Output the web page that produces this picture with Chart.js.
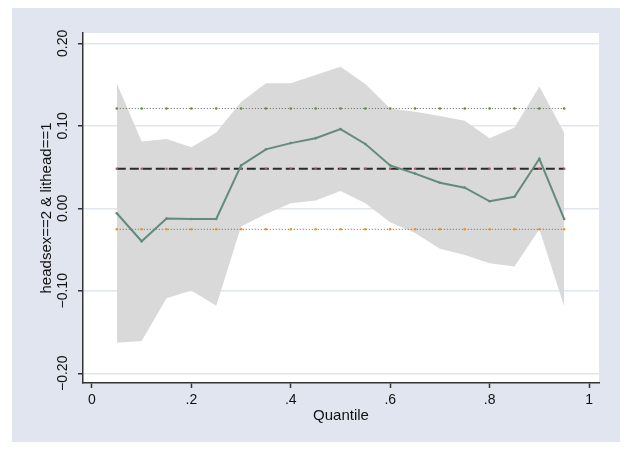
<!DOCTYPE html>
<html>
<head>
<meta charset="utf-8">
<script src="https://cdn.jsdelivr.net/npm/chart.js@4"></script>
<style>
  html, body { margin: 0; padding: 0; background: #ffffff; }
  #wrap { position: absolute; left: 12px; top: 8px; width: 608px; height: 434px; background: #e1e5ef; }
  canvas { display: block; }
</style>
</head>
<body>
<div id="wrap"><canvas id="myChart" width="608" height="434"></canvas></div>
<script>
// quantile regression estimates
const quantiles = [0.05, 0.10, 0.15, 0.20, 0.25, 0.30, 0.35, 0.40, 0.45, 0.50,
                   0.55, 0.60, 0.65, 0.70, 0.75, 0.80, 0.85, 0.90, 0.95]
const coef = [-0.006, -0.040, -0.0125, -0.013, -0.013, 0.052, 0.0715, 0.079, 0.085, 0.096,
              0.078, 0.052, 0.042, 0.031, 0.025, 0.0085, 0.014, 0.060, -0.013]
const ciUpper = [0.1515, 0.081, 0.084, 0.074, 0.092, 0.129, 0.1515, 0.1515, 0.1616, 0.1717,
                 0.1507, 0.121, 0.117, 0.112, 0.106, 0.085, 0.098, 0.1475, 0.0917]
const ciLower = [-0.163, -0.161, -0.109, -0.0998, -0.118, -0.022, -0.007, 0.006, 0.0093, 0.021,
                 0.006, -0.017, -0.030, -0.049, -0.0566, -0.0667, -0.0707, -0.0255, -0.119]
// OLS estimate and its confidence bounds
const olsCoef = 0.048
const olsUpper = 0.121
const olsLower = -0.0255

const yTicks = [-0.2, -0.1, 0, 0.1, 0.2]
const xTicks = [0, 0.2, 0.4, 0.6, 0.8, 1]
const yTitle = 'headsex==2 & lithead==1'
const xTitle = 'Quantile'

const pts = (ys) => quantiles.map((q, i) => ({ x: q, y: ys[i] }))
const flat = (v) => quantiles.map(q => ({ x: q, y: v }))

const ctx = document.getElementById('myChart');
const font = { family: '"Liberation Sans", Arial, sans-serif', size: 14 }

// white plot region
const plotBg = {
    id: 'plotBg',
    beforeDraw(chart) {
        const a = chart.chartArea
        const c = chart.ctx
        c.save()
        c.fillStyle = '#ffffff'
        c.fillRect(a.left, a.top, a.right - a.left, a.bottom - a.top)
        c.restore()
    }
}

new Chart(ctx, {
    type: 'scatter',
    data: {
        datasets: [
            {
                data: pts(ciUpper),
                showLine: true,
                fill: '+1',
                backgroundColor: '#d9d9d9',
                borderWidth: 0,
                pointRadius: 0,
                order: 5
            },
            {
                data: pts(ciLower),
                showLine: true,
                borderWidth: 0,
                pointRadius: 0,
                order: 6
            },
            {
                data: flat(olsUpper),
                showLine: true,
                borderColor: '#666666',
                borderWidth: 1,
                borderDash: [1, 2],
                pointRadius: 1.3,
                pointBackgroundColor: '#5f8d3c',
                pointBorderWidth: 0,
                order: 3
            },
            {
                data: flat(olsLower),
                showLine: true,
                borderColor: '#666666',
                borderWidth: 1,
                borderDash: [1, 2],
                pointRadius: 1.3,
                pointBackgroundColor: '#e8942e',
                pointBorderWidth: 0,
                order: 3
            },
            {
                data: flat(olsCoef),
                showLine: true,
                borderColor: '#2a2a2a',
                borderWidth: 2,
                borderDash: [9, 4],
                pointRadius: 1.3,
                pointBackgroundColor: '#b25a5a',
                pointBorderWidth: 0,
                order: 2
            },
            {
                data: pts(coef),
                showLine: true,
                borderColor: '#628b7c',
                borderWidth: 2,
                pointRadius: 1.3,
                pointBackgroundColor: '#628b7c',
                pointBorderWidth: 0,
                order: 1
            }
        ]
    },
    options: {
        responsive: false,
        animation: false,
        layout: { padding: { top: 25, right: 21, left: 0, bottom: 0 } },
        plugins: {
            legend: { display: false },
            tooltip: { enabled: false }
        },
        scales: {
            x: {
                type: 'linear',
                min: -0.018,
                max: 1.02,
                afterFit: (s) => { s.height = 59 },
                afterBuildTicks: (s) => { s.ticks = xTicks.map(v => ({ value: v })) },
                border: { display: true, color: '#333333', width: 1.5 },
                grid: { drawOnChartArea: false, tickColor: '#333333', tickLength: 5, tickWidth: 1.5 },
                ticks: {
                    color: '#111111',
                    font: font,
                    padding: 4,
                    maxRotation: 0,
                    callback: (v) => {
                        const r = Math.round(v * 10) / 10
                        if (r === 0) return '0'
                        if (r === 1) return '1'
                        return String(r).replace('0.', '.')
                    }
                },
                title: { display: true, text: xTitle, color: '#111111', font: { family: font.family, size: 15 }, padding: { top: 0, bottom: 17 } }
            },
            y: {
                type: 'linear',
                min: -0.2118,
                max: 0.2125,
                afterFit: (s) => { s.width = 71 },
                afterBuildTicks: (s) => { s.ticks = yTicks.map(v => ({ value: v })) },
                border: { display: true, color: '#333333', width: 1.5 },
                grid: { color: '#dfe6f0', lineWidth: 1.5, tickColor: '#333333', tickLength: 5, tickWidth: 1.5 },
                ticks: {
                    color: '#111111',
                    font: font,
                    minRotation: 90,
                    maxRotation: 90,
                    crossAlign: 'center',
                    padding: -3,
                    callback: (v) => {
                        const r = Math.round(v * 100) / 100
                        const s = Math.abs(r).toFixed(2)
                        return r < 0 ? '\u2212' + s : s
                    }
                },
                title: { display: true, text: yTitle, color: '#111111', font: { family: font.family, size: 15 }, padding: { top: 26, bottom: 0 } }
            }
        }
    },
    plugins: [plotBg]
});
</script>
</body>
</html>
